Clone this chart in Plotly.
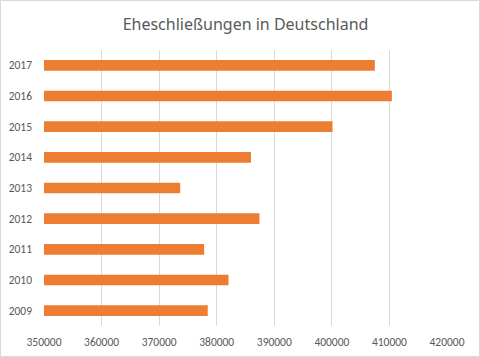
import plotly.graph_objects as go

years = ["2009", "2010", "2011", "2012", "2013", "2014", "2015", "2016", "2017"]
marriages = [378439, 382047, 377816, 387423, 373655, 385952, 400115, 410426, 407466]
x_ticks = [350000, 360000, 370000, 380000, 390000, 400000, 410000, 420000]

L, R, T, B = 44, 33, 50, 31
W, H = 480, 357
pw, ph = W - L - R, H - T - B

fig = go.Figure(go.Bar(
    x=marriages, y=years, orientation="h",
    marker=dict(color="#ED7D31", line=dict(width=0)),
    width=0.35,
))

fig.update_layout(
    width=W, height=H,
    margin=dict(l=L, r=R, t=T, b=B, pad=0, autoexpand=False),
    paper_bgcolor="white", plot_bgcolor="white",
    showlegend=False,
    font=dict(family="Calibri, Carlito, 'Noto Sans', sans-serif", color="#595959", size=12),
    title=dict(text="Eheschließungen in Deutschland", x=0.5, xref="paper", xanchor="center",
               y=1 - 24 / H, yanchor="middle",
               font=dict(family="'Noto Sans', sans-serif", size=16, color="#595959")),
    xaxis=dict(range=[350000, 420000], tickvals=x_ticks, ticktext=[str(v) for v in x_ticks],
               showgrid=True, gridcolor="#D9D9D9", gridwidth=1, zeroline=False,
               showline=False, ticks="", tickfont=dict(size=11.5, color="#595959"),
               ticklabelstandoff=7, fixedrange=True, automargin=False),
    yaxis=dict(type="category", categoryorder="array", categoryarray=years,
               showgrid=False, zeroline=False, showline=False, ticks="",
               tickfont=dict(size=11.5, color="#595959"), ticklabelstandoff=11,
               range=[-0.5, 8.5], fixedrange=True, automargin=False),
    shapes=[dict(type="rect", xref="paper", yref="paper",
                 x0=(0.5 - L) / pw, x1=(W - 0.5 - L) / pw,
                 y0=-(B - 0.5) / ph, y1=1 + (T - 0.5) / ph,
                 line=dict(color="#D9D9D9", width=1), layer="below")],
)

fig.write_html("out.html", config={"displayModeBar": False},
               post_script="document.body.style.margin='0';document.body.style.overflow='hidden';")
